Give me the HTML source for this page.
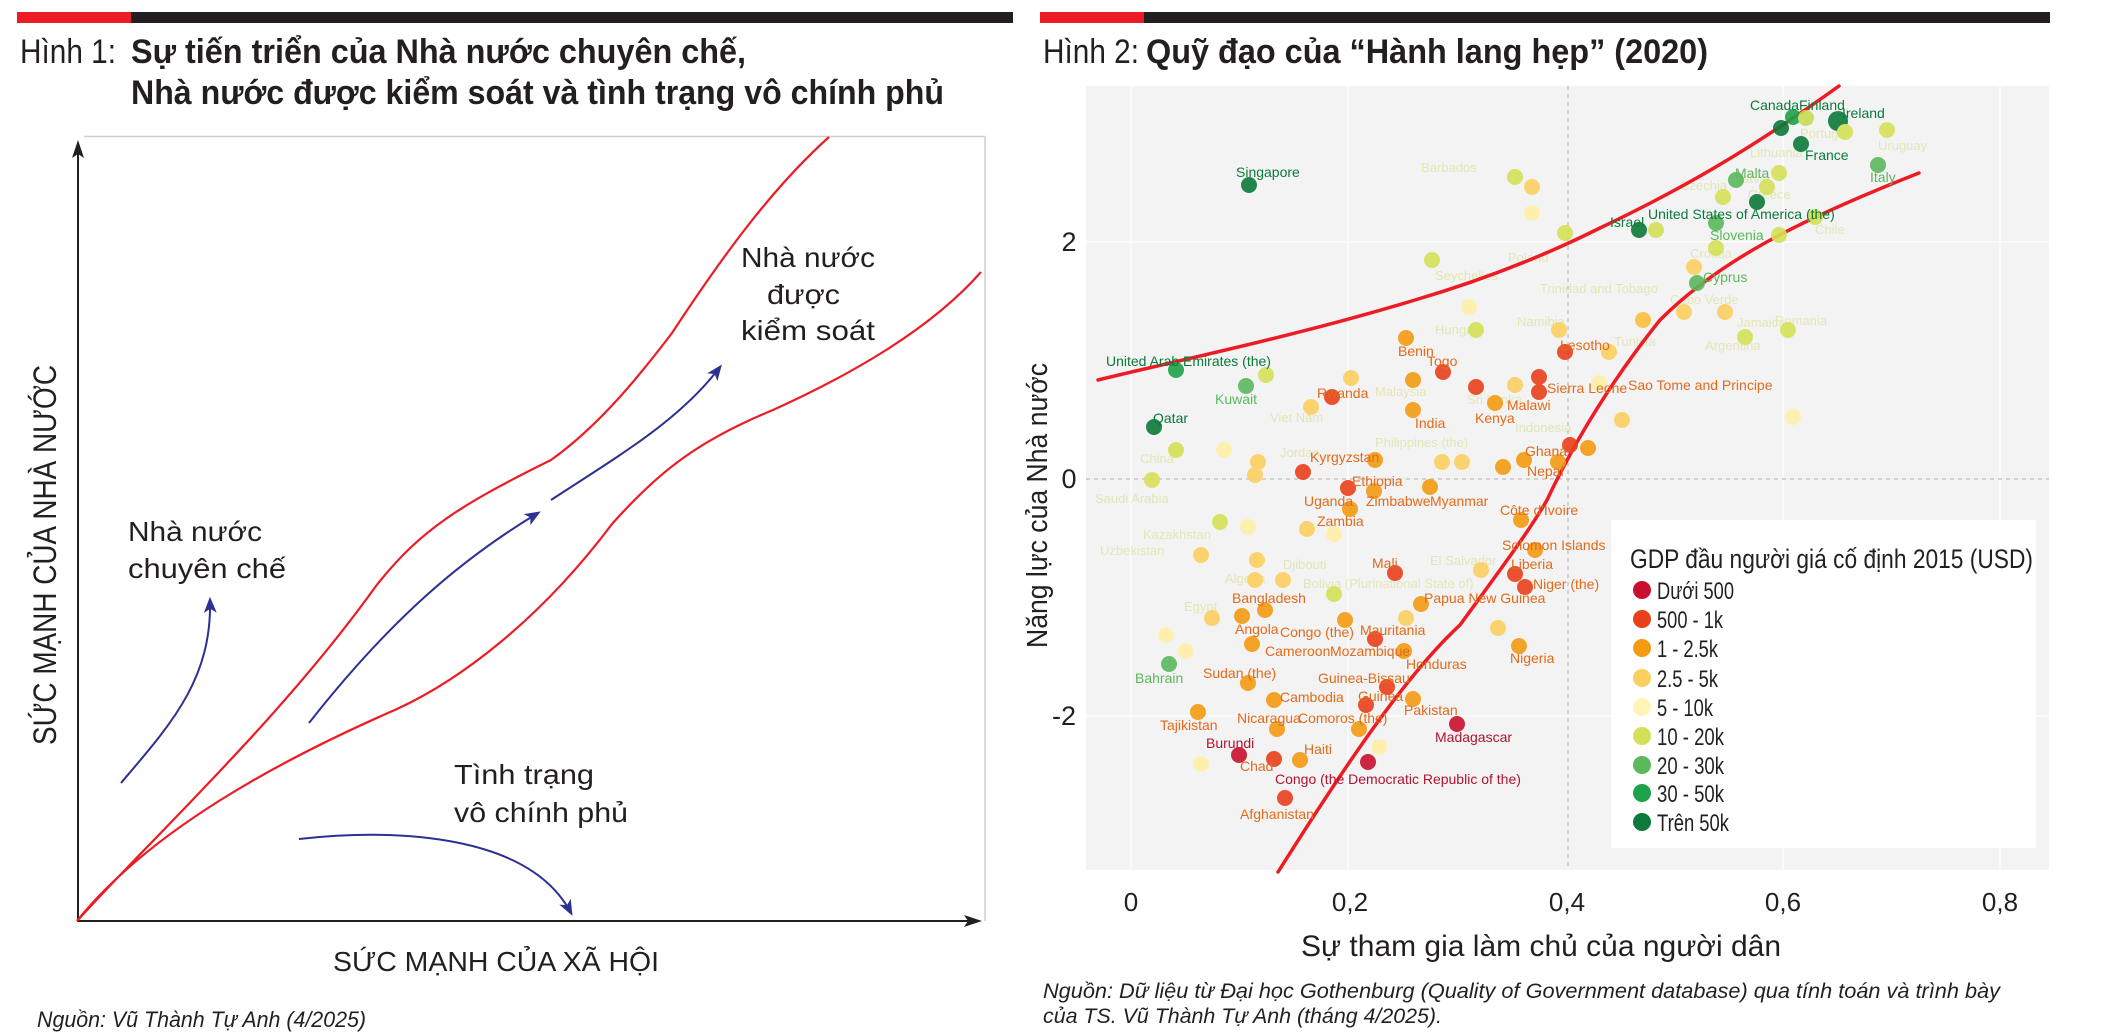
<!DOCTYPE html>
<html><head><meta charset="utf-8"><style>
html,body{margin:0;padding:0;background:#fff}
svg{display:block}
text{font-family:"Liberation Sans",sans-serif}
</style></head><body>
<svg width="2108" height="1035" viewBox="0 0 2108 1035" xmlns="http://www.w3.org/2000/svg">
<defs>
<marker id="ah" viewBox="0 0 10 10" refX="8" refY="5" markerWidth="16" markerHeight="16" markerUnits="userSpaceOnUse" orient="auto">
<path d="M0,1 L10,5 L0,9 L2.5,5 z" fill="#2b3190"/>
</marker>
</defs>
<rect x="17" y="12" width="114" height="11" fill="#ed1c24"/>
<rect x="131" y="12" width="882" height="11" fill="#231f20"/>
<rect x="1040" y="12" width="104" height="11" fill="#ed1c24"/>
<rect x="1144" y="12" width="906" height="11" fill="#231f20"/>

<g fill="#231f20" font-size="34">
<text x="20" y="63" textLength="96" lengthAdjust="spacingAndGlyphs">Hình 1:</text>
<text x="131" y="63" font-weight="bold" textLength="615" lengthAdjust="spacingAndGlyphs">Sự tiến triển của Nhà nước chuyên chế,</text>
<text x="131" y="104" font-weight="bold" textLength="813" lengthAdjust="spacingAndGlyphs">Nhà nước được kiểm soát và tình trạng vô chính phủ</text>
<text x="1043" y="63" textLength="96" lengthAdjust="spacingAndGlyphs">Hình 2:</text>
<text x="1146" y="63" font-weight="bold" textLength="562" lengthAdjust="spacingAndGlyphs">Quỹ đạo của “Hành lang hẹp” (2020)</text>
</g>

<path d="M84,136.5 H985 V921" fill="none" stroke="#cfcfcf" stroke-width="1.5"/>
<line x1="78" y1="922" x2="78" y2="152" stroke="#231f20" stroke-width="2"/>
<path d="M78,140 L72,158 L78,154 L84,158 z" fill="#231f20"/>
<line x1="77" y1="921" x2="970" y2="921" stroke="#231f20" stroke-width="2"/>
<path d="M982,921 L964,915 L968,921 L964,927 z" fill="#231f20"/>

<g fill="none" stroke="#ed1c24" stroke-width="2.2">
<path d="M77,921 C150,840 280,720 376,586 C420,530 460,505 551,460 C600,425 640,375 672,333 C720,260 770,190 829,137"/>
<path d="M77,921 C150,830 280,760 397,709 C460,680 540,620 612,524 C660,470 700,440 773,410 C850,375 930,330 981,272"/>
</g>

<g fill="none" stroke="#2b3190" stroke-width="2">
<path d="M121,783 C170,725 212,680 210,600" marker-end="url(#ah)"/>
<path d="M309,723 C390,620 460,560 538,513" marker-end="url(#ah)"/>
<path d="M551,500 C620,455 680,420 720,367" marker-end="url(#ah)"/>
<path d="M299,839 C400,828 530,835 571,913" marker-end="url(#ah)"/>
</g>

<g fill="#231f20" font-size="28">
<text x="128" y="541" textLength="134" lengthAdjust="spacingAndGlyphs">Nhà nước</text>
<text x="128" y="578" textLength="158" lengthAdjust="spacingAndGlyphs">chuyên chế</text>
<text x="741" y="267" textLength="134" lengthAdjust="spacingAndGlyphs">Nhà nước</text>
<text x="767" y="304" textLength="73" lengthAdjust="spacingAndGlyphs">được</text>
<text x="741" y="340" textLength="134" lengthAdjust="spacingAndGlyphs">kiểm soát</text>
<text x="454" y="784" textLength="140" lengthAdjust="spacingAndGlyphs">Tình trạng</text>
<text x="454" y="822" textLength="174" lengthAdjust="spacingAndGlyphs">vô chính phủ</text>
<text x="333" y="971" textLength="326" lengthAdjust="spacingAndGlyphs">SỨC MẠNH CỦA XÃ HỘI</text>
<text transform="translate(56,745) rotate(-90)" x="0" y="0" font-size="32" textLength="380" lengthAdjust="spacingAndGlyphs">SỨC MẠNH CỦA NHÀ NƯỚC</text>
<text x="37" y="1027" font-size="22" font-style="italic" textLength="329" lengthAdjust="spacingAndGlyphs">Nguồn: Vũ Thành Tự Anh (4/2025)</text>
</g>

<rect x="1086" y="86" width="963" height="784" fill="#f3f3f4"/>
<g stroke="#fafafa" stroke-width="2">
<line x1="1131" y1="86" x2="1131" y2="870"/><line x1="1348" y1="86" x2="1348" y2="870"/>
<line x1="1783" y1="86" x2="1783" y2="870"/><line x1="2000" y1="86" x2="2000" y2="870"/>
<line x1="1086" y1="242" x2="2049" y2="242"/><line x1="1086" y1="716" x2="2049" y2="716"/>
</g>
<line x1="1568" y1="86" x2="1568" y2="870" stroke="#bbb" stroke-width="1.2" stroke-dasharray="4,4"/>
<line x1="1086" y1="479" x2="2049" y2="479" stroke="#bbb" stroke-width="1.2" stroke-dasharray="4,4"/>

<g font-size="13" opacity="0.35" fill="#c8d040">
<text x="1095" y="503">Saudi Arabia</text><text x="1140" y="463">China</text><text x="1143" y="539">Kazakhstan</text>
<text x="1280" y="457">Jordan</text><text x="1270" y="422">Viet Nam</text><text x="1375" y="396">Malaysia</text>
<text x="1375" y="447">Philippines (the)</text><text x="1467" y="404">Sri Lanka</text><text x="1515" y="432">Indonesia</text>
<text x="1100" y="555">Uzbekistan</text><text x="1225" y="583">Algeria</text><text x="1283" y="569">Djibouti</text>
<text x="1303" y="588">Bolivia (Plurinational State of)</text><text x="1184" y="611">Egypt</text><text x="1430" y="565">El Salvador</text>
<text x="1435" y="334">Hungary</text><text x="1517" y="326">Namibia</text><text x="1421" y="172">Barbados</text><text x="1435" y="280">Seychelles</text>
<text x="1735" y="183">Latvia</text><text x="1748" y="199">Greece</text><text x="1680" y="190">Czechia</text><text x="1690" y="258">Croatia</text>
<text x="1670" y="304">Cabo Verde</text><text x="1737" y="327">Jamaica</text><text x="1775" y="325">Romania</text><text x="1705" y="350">Argentina</text>
<text x="1750" y="157">Lithuania</text><text x="1800" y="138">Portugal</text><text x="1878" y="150">Uruguay</text><text x="1815" y="234">Chile</text>
<text x="1614" y="346">Tunisia</text><text x="1540" y="293">Trinidad and Tobago</text><text x="1508" y="262">Poland</text>
</g>

<g fill="none" stroke="#ed1c24" stroke-width="3.5" stroke-linecap="round">
<path d="M1098,380 C1180,360 1300,335 1415,300 C1500,275 1560,248 1600,228 C1680,190 1750,150 1839,86"/>
<path d="M1278,872 C1330,790 1400,680 1460,625 C1500,570 1530,530 1547,500 C1580,430 1620,370 1660,320 C1720,260 1800,220 1919,173"/>
</g>

<g opacity="0.9">
<circle cx="1249" cy="185" r="8" fill="#0b7a3a"/>
<circle cx="1781" cy="128" r="8" fill="#0b7a3a"/>
<circle cx="1793" cy="117" r="8" fill="#1ea34a"/>
<circle cx="1806" cy="118" r="8" fill="#c7dc55"/>
<circle cx="1838" cy="121" r="10" fill="#0b7a3a"/>
<circle cx="1845" cy="132" r="8" fill="#d4e157"/>
<circle cx="1801" cy="144" r="8" fill="#0b7a3a"/>
<circle cx="1887" cy="130" r="8" fill="#d4e157"/>
<circle cx="1878" cy="165" r="8" fill="#5cb85c"/>
<circle cx="1736" cy="180" r="8" fill="#5cb85c"/>
<circle cx="1779" cy="173" r="8" fill="#d4e157"/>
<circle cx="1767" cy="187" r="8" fill="#d4e157"/>
<circle cx="1723" cy="197" r="8" fill="#d4e157"/>
<circle cx="1757" cy="202" r="8" fill="#0b7a3a"/>
<circle cx="1716" cy="223" r="8" fill="#5cb85c"/>
<circle cx="1779" cy="235" r="8" fill="#d4e157"/>
<circle cx="1815" cy="217" r="8" fill="#d4e157"/>
<circle cx="1639" cy="230" r="8" fill="#0b7a3a"/>
<circle cx="1656" cy="230" r="8" fill="#d4e157"/>
<circle cx="1716" cy="248" r="8" fill="#d4e157"/>
<circle cx="1694" cy="267" r="8" fill="#fcd060"/>
<circle cx="1697" cy="283" r="8" fill="#5cb85c"/>
<circle cx="1565" cy="233" r="8" fill="#d4e157"/>
<circle cx="1515" cy="177" r="8" fill="#d4e157"/>
<circle cx="1532" cy="187" r="8" fill="#fcd060"/>
<circle cx="1532" cy="213" r="8" fill="#fff0a8"/>
<circle cx="1432" cy="260" r="8" fill="#d4e157"/>
<circle cx="1469" cy="307" r="8" fill="#fff0a8"/>
<circle cx="1476" cy="330" r="8" fill="#d4e157"/>
<circle cx="1559" cy="330" r="8" fill="#fcd060"/>
<circle cx="1643" cy="320" r="8" fill="#fcc040"/>
<circle cx="1684" cy="312" r="8" fill="#fcd060"/>
<circle cx="1725" cy="312" r="8" fill="#fcd060"/>
<circle cx="1745" cy="337" r="8" fill="#d4e157"/>
<circle cx="1788" cy="330" r="8" fill="#d4e157"/>
<circle cx="1406" cy="338" r="8" fill="#f39c12"/>
<circle cx="1565" cy="352" r="8" fill="#e8401c"/>
<circle cx="1609" cy="352" r="8" fill="#fcd060"/>
<circle cx="1443" cy="372" r="8" fill="#e8401c"/>
<circle cx="1413" cy="380" r="8" fill="#f39c12"/>
<circle cx="1476" cy="387" r="8" fill="#e8401c"/>
<circle cx="1539" cy="377" r="8" fill="#e8401c"/>
<circle cx="1539" cy="392" r="8" fill="#e8401c"/>
<circle cx="1332" cy="397" r="8" fill="#e8401c"/>
<circle cx="1351" cy="378" r="8" fill="#fcd060"/>
<circle cx="1311" cy="407" r="8" fill="#fcd060"/>
<circle cx="1176" cy="370" r="8" fill="#1ea34a"/>
<circle cx="1246" cy="386" r="8" fill="#5cb85c"/>
<circle cx="1266" cy="375" r="8" fill="#d4e157"/>
<circle cx="1154" cy="427" r="8" fill="#0b7a3a"/>
<circle cx="1176" cy="450" r="8" fill="#d4e157"/>
<circle cx="1224" cy="450" r="8" fill="#fff0a8"/>
<circle cx="1152" cy="480" r="8" fill="#d4e157"/>
<circle cx="1413" cy="410" r="8" fill="#f39c12"/>
<circle cx="1495" cy="403" r="8" fill="#f39c12"/>
<circle cx="1515" cy="385" r="8" fill="#fcd060"/>
<circle cx="1599" cy="383" r="8" fill="#fff0a8"/>
<circle cx="1622" cy="420" r="8" fill="#fcd060"/>
<circle cx="1570" cy="445" r="8" fill="#e8401c"/>
<circle cx="1588" cy="448" r="8" fill="#f39c12"/>
<circle cx="1558" cy="462" r="8" fill="#f39c12"/>
<circle cx="1524" cy="460" r="8" fill="#f39c12"/>
<circle cx="1503" cy="467" r="8" fill="#f39c12"/>
<circle cx="1462" cy="462" r="8" fill="#fcd060"/>
<circle cx="1442" cy="462" r="8" fill="#fcd060"/>
<circle cx="1375" cy="460" r="8" fill="#f39c12"/>
<circle cx="1303" cy="472" r="8" fill="#e8401c"/>
<circle cx="1258" cy="462" r="8" fill="#fcd060"/>
<circle cx="1255" cy="475" r="8" fill="#fcd060"/>
<circle cx="1348" cy="488" r="8" fill="#e8401c"/>
<circle cx="1374" cy="491" r="8" fill="#f39c12"/>
<circle cx="1430" cy="487" r="8" fill="#f39c12"/>
<circle cx="1350" cy="509" r="8" fill="#f39c12"/>
<circle cx="1793" cy="417" r="8" fill="#fff0a8"/>
<circle cx="1521" cy="520" r="8" fill="#f39c12"/>
<circle cx="1220" cy="522" r="8" fill="#d4e157"/>
<circle cx="1248" cy="527" r="8" fill="#fff0a8"/>
<circle cx="1307" cy="529" r="8" fill="#fcd060"/>
<circle cx="1334" cy="534" r="8" fill="#fff0a8"/>
<circle cx="1201" cy="555" r="8" fill="#fcd060"/>
<circle cx="1257" cy="560" r="8" fill="#fcd060"/>
<circle cx="1255" cy="580" r="8" fill="#fcd060"/>
<circle cx="1283" cy="580" r="8" fill="#fcd060"/>
<circle cx="1395" cy="573" r="8" fill="#e8401c"/>
<circle cx="1334" cy="594" r="8" fill="#d4e157"/>
<circle cx="1481" cy="570" r="8" fill="#fcd060"/>
<circle cx="1515" cy="574" r="8" fill="#e8401c"/>
<circle cx="1525" cy="587" r="8" fill="#e8401c"/>
<circle cx="1535" cy="550" r="8" fill="#f39c12"/>
<circle cx="1265" cy="610" r="8" fill="#f39c12"/>
<circle cx="1242" cy="616" r="8" fill="#f39c12"/>
<circle cx="1212" cy="618" r="8" fill="#fcd060"/>
<circle cx="1345" cy="620" r="8" fill="#f39c12"/>
<circle cx="1421" cy="604" r="8" fill="#f39c12"/>
<circle cx="1406" cy="618" r="8" fill="#fcd060"/>
<circle cx="1498" cy="628" r="8" fill="#fcd060"/>
<circle cx="1519" cy="646" r="8" fill="#f39c12"/>
<circle cx="1375" cy="639" r="8" fill="#e8401c"/>
<circle cx="1252" cy="644" r="8" fill="#f39c12"/>
<circle cx="1404" cy="651" r="8" fill="#f39c12"/>
<circle cx="1166" cy="635" r="8" fill="#fff0a8"/>
<circle cx="1186" cy="651" r="8" fill="#fff0a8"/>
<circle cx="1169" cy="664" r="8" fill="#5cb85c"/>
<circle cx="1248" cy="683" r="8" fill="#f39c12"/>
<circle cx="1387" cy="687" r="8" fill="#e8401c"/>
<circle cx="1366" cy="705" r="8" fill="#e8401c"/>
<circle cx="1413" cy="699" r="8" fill="#f39c12"/>
<circle cx="1274" cy="700" r="8" fill="#f39c12"/>
<circle cx="1198" cy="712" r="8" fill="#f39c12"/>
<circle cx="1277" cy="729" r="8" fill="#f39c12"/>
<circle cx="1359" cy="729" r="8" fill="#f39c12"/>
<circle cx="1457" cy="724" r="8" fill="#c8102e"/>
<circle cx="1379" cy="747" r="8" fill="#fff0a8"/>
<circle cx="1239" cy="755" r="8" fill="#c8102e"/>
<circle cx="1274" cy="759" r="8" fill="#e8401c"/>
<circle cx="1300" cy="760" r="8" fill="#f39c12"/>
<circle cx="1368" cy="762" r="8" fill="#c8102e"/>
<circle cx="1201" cy="764" r="8" fill="#fff0a8"/>
<circle cx="1285" cy="798" r="8" fill="#e8401c"/>
</g>

<g font-size="14">
<g fill="#0b7a3a">
<text x="1236" y="177">Singapore</text><text x="1106" y="366">United Arab Emirates (the)</text>
<text x="1153" y="423">Qatar</text><text x="1750" y="110">Canada</text><text x="1799" y="110">Finland</text>
<text x="1842" y="118">Ireland</text><text x="1805" y="160">France</text><text x="1648" y="219">United States of America (the)</text>
<text x="1610" y="227">Israel</text>
</g>
<g fill="#5cb85c"><text x="1215" y="404">Kuwait</text><text x="1710" y="240">Slovenia</text><text x="1703" y="282">Cyprus</text><text x="1735" y="178">Malta</text><text x="1870" y="182">Italy</text><text x="1135" y="683">Bahrain</text></g>
<g fill="#e26a1a">
<text x="1398" y="356">Benin</text><text x="1427" y="366">Togo</text><text x="1317" y="398">Rwanda</text><text x="1415" y="428">India</text>
<text x="1475" y="423">Kenya</text><text x="1560" y="350">Lesotho</text><text x="1547" y="393">Sierra Leone</text><text x="1507" y="410">Malawi</text>
<text x="1525" y="456">Ghana</text><text x="1527" y="476">Nepal</text><text x="1310" y="462">Kyrgyzstan</text><text x="1352" y="486">Ethiopia</text>
<text x="1304" y="506">Uganda</text><text x="1366" y="506">Zimbabwe</text><text x="1430" y="506">Myanmar</text><text x="1500" y="515">Côte d'Ivoire</text>
<text x="1317" y="526">Zambia</text><text x="1502" y="550">Solomon Islands</text><text x="1372" y="568">Mali</text><text x="1511" y="569">Liberia</text>
<text x="1533" y="589">Niger (the)</text><text x="1424" y="603">Papua New Guinea</text><text x="1232" y="603">Bangladesh</text>
<text x="1235" y="634">Angola</text><text x="1280" y="637">Congo (the)</text><text x="1360" y="635">Mauritania</text><text x="1265" y="656">Cameroon</text>
<text x="1330" y="656">Mozambique</text><text x="1406" y="669">Honduras</text><text x="1203" y="678">Sudan (the)</text><text x="1318" y="683">Guinea-Bissau</text>
<text x="1358" y="701">Guinea</text><text x="1280" y="702">Cambodia</text><text x="1404" y="715">Pakistan</text><text x="1160" y="730">Tajikistan</text>
<text x="1237" y="723">Nicaragua</text><text x="1298" y="723">Comoros (the)</text><text x="1510" y="663">Nigeria</text><text x="1628" y="390">Sao Tome and Principe</text>
<text x="1304" y="754">Haiti</text><text x="1240" y="771">Chad</text><text x="1240" y="819">Afghanistan</text>
</g>
<g fill="#b0142e"><text x="1206" y="748">Burundi</text><text x="1275" y="784">Congo (the Democratic Republic of the)</text><text x="1435" y="742">Madagascar</text></g>
</g>

<g fill="#231f20">
<text x="1069" y="251" font-size="27" text-anchor="middle">2</text>
<text x="1069" y="488" font-size="27" text-anchor="middle">0</text>
<text x="1064" y="725" font-size="27" text-anchor="middle">-2</text>
<g font-size="26" text-anchor="middle">
<text x="1131" y="911">0</text><text x="1350" y="911">0,2</text><text x="1567" y="911">0,4</text><text x="1783" y="911">0,6</text><text x="2000" y="911">0,8</text>
</g>
<text x="1301" y="956" font-size="30" textLength="480" lengthAdjust="spacingAndGlyphs">Sự tham gia làm chủ của người dân</text>
<text transform="translate(1047,648) rotate(-90)" font-size="29" textLength="285" lengthAdjust="spacingAndGlyphs">Năng lực của Nhà nước</text>
<text x="1043" y="998" font-size="21" font-style="italic" textLength="957" lengthAdjust="spacingAndGlyphs">Nguồn: Dữ liệu từ Đại học Gothenburg (Quality of Government database) qua tính toán và trình bày</text>
<text x="1043" y="1023" font-size="21" font-style="italic" textLength="399" lengthAdjust="spacingAndGlyphs">của TS. Vũ Thành Tự Anh (tháng 4/2025).</text>
</g>

<rect x="1611" y="520" width="425" height="328" fill="#ffffff"/>
<text x="1630" y="568" font-size="27" fill="#231f20" textLength="403" lengthAdjust="spacingAndGlyphs">GDP đầu người giá cố định 2015 (USD)</text>
<g font-size="24" fill="#231f20">
<circle cx="1642" cy="590" r="9" fill="#c8102e"/><text x="1657" y="599" textLength="77" lengthAdjust="spacingAndGlyphs">Dưới 500</text>
<circle cx="1642" cy="619" r="9" fill="#e8401c"/><text x="1657" y="628" textLength="66" lengthAdjust="spacingAndGlyphs">500 - 1k</text>
<circle cx="1642" cy="648" r="9" fill="#f39c12"/><text x="1657" y="657" textLength="61" lengthAdjust="spacingAndGlyphs">1 - 2.5k</text>
<circle cx="1642" cy="678" r="9" fill="#fcd060"/><text x="1657" y="687" textLength="61" lengthAdjust="spacingAndGlyphs">2.5 - 5k</text>
<circle cx="1642" cy="707" r="9" fill="#fff4b8"/><text x="1657" y="716" textLength="56" lengthAdjust="spacingAndGlyphs">5 - 10k</text>
<circle cx="1642" cy="736" r="9" fill="#d4e157"/><text x="1657" y="745" textLength="67" lengthAdjust="spacingAndGlyphs">10 - 20k</text>
<circle cx="1642" cy="765" r="9" fill="#5cb85c"/><text x="1657" y="774" textLength="67" lengthAdjust="spacingAndGlyphs">20 - 30k</text>
<circle cx="1642" cy="793" r="9" fill="#1ea34a"/><text x="1657" y="802" textLength="67" lengthAdjust="spacingAndGlyphs">30 - 50k</text>
<circle cx="1642" cy="822" r="9" fill="#0b7a3a"/><text x="1657" y="831" textLength="72" lengthAdjust="spacingAndGlyphs">Trên 50k</text>
</g>
</svg>
</body></html>
